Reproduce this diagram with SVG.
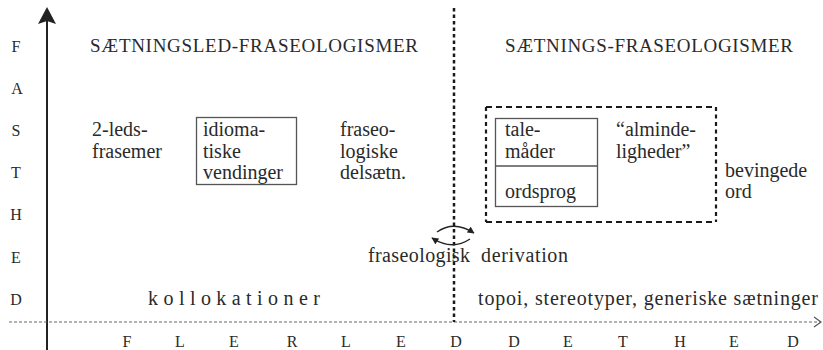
<svg xmlns="http://www.w3.org/2000/svg" width="823" height="350" viewBox="0 0 823 350">
<style>
text{font-family:"Liberation Serif","DejaVu Serif",serif;fill:#2a2a2a}
.ax{font-size:16px;text-anchor:middle}
.t{font-size:20px}
.title{font-size:19px}
.box{fill:none;stroke:#555;stroke-width:1.3}
.dash{fill:none;stroke:#1a1a1a;stroke-width:2.2}
</style>
<defs>
<marker id="ah" viewBox="0 0 10 10" refX="9" refY="5" markerWidth="7" markerHeight="7" orient="auto" markerUnits="userSpaceOnUse">
<path d="M0,0 L10,5 L0,10 Z" fill="#222"/>
</marker>
</defs>
<rect width="823" height="350" fill="#fff"/>

<g id="axes">
<line x1="47" y1="20" x2="47" y2="350" stroke="#222" stroke-width="2"/>
<path d="M47,7 L56,24 L47,21 L38,24 Z" fill="#222"/>
<line x1="9" y1="322" x2="820" y2="322" stroke="#666" stroke-width="1" stroke-dasharray="3 2"/>
<path d="M814,317 L821,322 L814,327" fill="none" stroke="#555" stroke-width="1.2"/>
<line x1="454" y1="8" x2="454" y2="322" stroke="#1a1a1a" stroke-width="2.5" stroke-dasharray="3.5 3"/>
</g>

<g id="y-label">
<text class="ax" x="16" y="52">F</text>
<text class="ax" x="17" y="94">A</text>
<text class="ax" x="16" y="136">S</text>
<text class="ax" x="16" y="178">T</text>
<text class="ax" x="16" y="220">H</text>
<text class="ax" x="16" y="263">E</text>
<text class="ax" x="16" y="305">D</text>
</g>

<g id="x-label">
<text class="ax" x="127" y="347">F</text>
<text class="ax" x="180" y="347">L</text>
<text class="ax" x="234" y="347">E</text>
<text class="ax" x="292" y="347">R</text>
<text class="ax" x="346" y="347">L</text>
<text class="ax" x="401" y="347">E</text>
<text class="ax" x="456" y="347">D</text>
<text class="ax" x="514" y="347">D</text>
<text class="ax" x="568" y="347">E</text>
<text class="ax" x="623" y="347">T</text>
<text class="ax" x="680" y="347">H</text>
<text class="ax" x="734" y="347">E</text>
<text class="ax" x="793" y="347">D</text>
</g>

<g id="title-left"><text class="title" x="90" y="52" textLength="328">SÆTNINGSLED-FRASEOLOGISMER</text></g>
<g id="title-right"><text class="title" x="505" y="52" textLength="288">SÆTNINGS-FRASEOLOGISMER</text></g>

<g id="toleds">
<text class="t" x="92" y="136">2-leds-</text>
<text class="t" x="92" y="158">frasemer</text>
</g>

<g id="idiomatiske">
<rect class="box" x="196.5" y="117.5" width="100" height="67"/>
<text class="t" x="203" y="136">idioma-</text>
<text class="t" x="203" y="158">tiske</text>
<text class="t" x="203" y="179">vendinger</text>
</g>

<g id="fraseologiske">
<text class="t" x="340" y="136">fraseo-</text>
<text class="t" x="340" y="158">logiske</text>
<text class="t" x="340" y="179">delsætn.</text>
</g>

<g id="dashed-group">
<path class="dash" d="M486,107 H716 M486,222 H716" stroke-dasharray="6 4"/>
<path class="dash" d="M486,107 V222 M716,107 V222" stroke-dasharray="4 3.5"/>
</g>

<g id="talemaader">
<rect class="box" x="495.5" y="118.5" width="102" height="88"/>
<line x1="495.5" y1="166" x2="597.5" y2="166" stroke="#555" stroke-width="1.3"/>
<text class="t" x="505" y="136">tale-</text>
<text class="t" x="505" y="158">måder</text>
<text class="t" x="505" y="198">ordsprog</text>
</g>

<g id="almindeligheder">
<text class="t" x="616" y="136">“alminde-</text>
<text class="t" x="616" y="158">ligheder”</text>
</g>

<g id="bevingede">
<text class="t" x="725" y="177">bevingede</text>
<text class="t" x="725" y="198">ord</text>
</g>

<g id="connectors">
<path d="M437,232 Q454,220 474,233" fill="none" stroke="#222" stroke-width="1.3" marker-end="url(#ah)"/>
<path d="M470,239 Q452,251 432,238" fill="none" stroke="#222" stroke-width="1.3" marker-end="url(#ah)"/>
</g>

<g id="derivation">
<text class="t" x="368" y="262" textLength="102">fraseologisk</text>
<text class="t" x="481" y="262" textLength="87">derivation</text>
</g>

<g id="kollokationer"><text class="t" x="148" y="305" textLength="172">kollokationer</text></g>

<g id="topoi"><text class="t" x="478" y="305" textLength="340">topoi,  stereotyper,  generiske sætninger</text></g>
</svg>
